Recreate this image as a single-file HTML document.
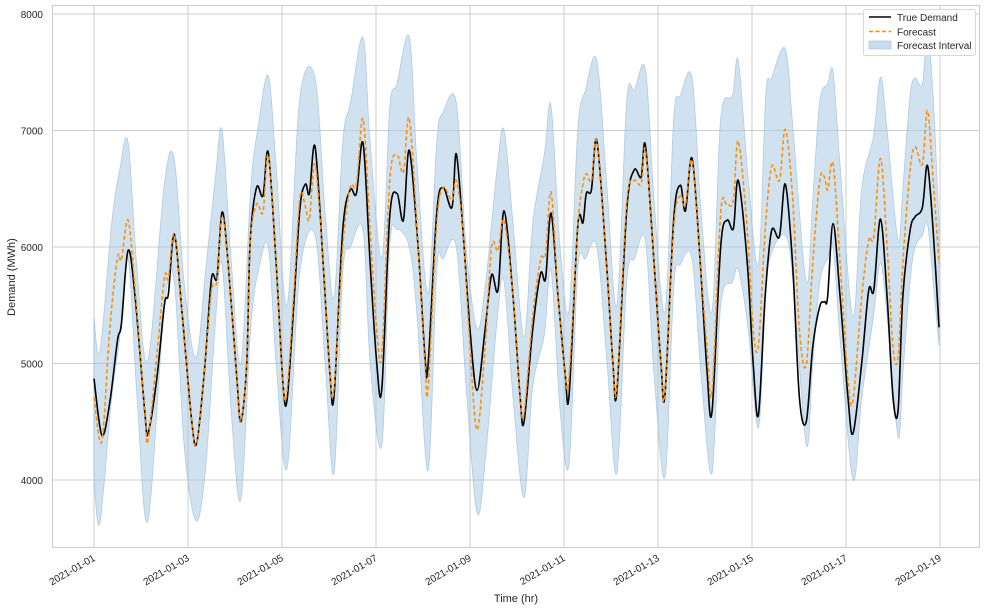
<!DOCTYPE html>
<html><head><meta charset="utf-8">
<style>
html,body{margin:0;padding:0;background:#fff;}
svg{display:block;font-family:"Liberation Sans",Arial,sans-serif;}
</style></head>
<body>
<svg id="chart" width="990" height="612" viewBox="0 0 990 612">
<rect x="0" y="0" width="990" height="612" fill="#fff"/>
<g id="grid"></g>
<g id="band"></g>
<g id="lines"></g>
<rect x="52.5" y="5.5" width="927" height="542" fill="none" stroke="#cccccc" stroke-width="1"/>
<g id="yticks"></g>
<g id="xticks"></g>
<text x="516" y="602" text-anchor="middle" font-size="11" fill="#262626">Time (hr)</text>
<text x="15" y="277" text-anchor="middle" font-size="11" fill="#262626" transform="rotate(-90 15 277)">Demand (MWh)</text>
<g>
<rect x="863.5" y="9.5" width="112" height="46" rx="2" fill="#fff" fill-opacity="0.85" stroke="#d8d8d8"/>
<line x1="869" y1="17" x2="891" y2="17" stroke="#000" stroke-width="1.6"/>
<text x="897" y="21" font-size="10" fill="#262626">True Demand</text>
<line x1="869" y1="31.5" x2="891" y2="31.5" stroke="#ff8c00" stroke-width="1.6" stroke-dasharray="4,2.5"/>
<text x="897" y="35.5" font-size="10" fill="#262626">Forecast</text>
<rect x="869" y="41" width="22" height="8" fill="#b4cfe5" fill-opacity="0.7" stroke="#9fc0dc" stroke-width="0.6"/>
<text x="897" y="49" font-size="10" fill="#262626">Forecast Interval</text>
</g>
</svg>
<script>
const hours=[0,4,8,12,14,17.4,21,26,27.6,32,36,38,41,45,50,52.6,56.7,60,62.8,65.4,68.5,73,75,78,79.7,83,86.3,89,93,96.5,98.6,102,105.2,108,110,112.9,117,120.5,122.6,127,130.8,134,137.4,141,144.4,147,151,154.7,158,161,165.5,169,170.6,175,178.3,182.8,185,188.4,192,195.6,199.7,203,206.3,209.4,214,217.6,219.6,224,228,230.6,233.4,237,240.6,242.6,247,249.7,251.4,254,256.8,261.7,265,267,272,275.8,279.4,281.6,286,289.5,291.6,296,299.4,302,305.4,309.6,313,315.6,320,323.3,326.5,329,333.6,336.6,339.3,342.7,346,350,353,356.7,360.2,363.7,367,370.6,373,374.6,377.4,381,385,387.6,392,395.6,398.2,401.6,405,408,410.6,413,416.7,419.3,423,425.6,428.5,431.5];
const trueDemand=[4870,4385,4660,5200,5340,5970,5570,4570,4400,4860,5510,5600,6110,5430,4490,4330,5000,5730,5740,6300,5860,4860,4500,5000,6030,6510,6440,6810,5860,4830,4690,5500,6340,6540,6460,6860,5860,4910,4730,6140,6490,6460,6890,5860,5000,4790,6260,6460,6230,6830,6000,5060,4990,6290,6510,6340,6800,6140,5290,4770,5290,5760,5630,6310,5570,4710,4500,5290,5770,5730,6290,5570,4910,4730,6170,6210,6460,6490,6910,5860,5000,4760,6310,6660,6600,6870,5860,5000,4740,6230,6530,6310,6760,5860,4940,4590,6000,6230,6160,6570,5860,5000,4560,5570,6140,6090,6540,5860,4710,4500,5140,5490,5530,5570,6200,5570,4710,4400,5000,5630,5630,6240,5570,4710,4600,5570,6140,6260,6340,6700,6140,5310];
const forecast=[4710,4330,5290,5910,5890,6230,5630,4570,4340,5060,5740,5730,6110,5430,4490,4330,5000,5630,5710,6260,5860,4860,4500,5000,6030,6370,6300,6790,5860,4830,4770,5600,6430,6340,6240,6710,5860,4910,4790,6000,6510,6540,7100,6140,5290,5090,6570,6790,6640,7100,6000,5000,4790,6200,6510,6400,6570,6140,5140,4430,5140,6000,5970,6230,5570,4710,4570,5400,5890,5940,6470,5570,4910,4890,6170,6540,6630,6570,6900,5860,5000,4800,6370,6570,6540,6830,5860,5000,4740,6170,6440,6360,6740,5860,5140,4760,6290,6360,6400,6910,6140,5290,5160,6140,6690,6570,7010,6430,5290,4990,5860,6570,6600,6490,6710,5860,4860,4690,5570,6060,6090,6760,6000,5140,5060,5860,6660,6860,6710,7170,6570,5860];
const bandHours=[0,3,9,13,17.4,22,27.5,36,41,46,52,57,62,65.4,70,75,80,84,89,93,98.6,105,112.9,118,122.6,127,131,137.4,141,147,151,154.7,161,165,170.6,175,178.3,185,190,195.6,200,206,209.4,214,219.6,224,230,233.4,238,242.6,247,251,256.8,262,267,272,276,281.6,286,291.6,296,299.4,305.4,310,315.6,320,326,329,334,339.3,343,346,353,357,363.7,367,370.6,374.6,377.4,381,387.6,392,398,401.6,405,410.6,413,416.7,419.3,423,425.6,428.5,431.5];
const bandUpper=[5400,5100,6200,6650,6900,5800,5030,6550,6750,5700,5050,5800,6600,7000,5900,5000,6500,7050,7470,6700,5500,7270,7450,6300,5570,6900,7240,7800,6900,5900,7200,7400,7800,6700,5600,6900,7160,7240,6000,5300,5700,6700,7000,6200,5230,6200,6800,7210,6000,5460,7000,7350,7600,6500,5500,7250,7350,7520,6400,5450,7100,7300,7450,6300,5450,7100,7300,7600,6600,5850,7300,7450,7700,7000,5700,6400,7250,7400,7500,6700,5400,6500,6950,7460,7000,6050,6500,7300,7450,7400,7860,7300,6200];
const bandLower=[4000,3630,4700,5200,5900,4700,3650,5500,5700,4300,3650,4100,5350,5850,4600,3830,5300,5800,6000,5000,4100,5770,6100,5000,4060,5770,6000,6140,5000,4300,6000,6150,6000,5400,4080,5800,5900,6000,4800,3720,4200,5400,5700,4700,3850,4800,5250,5800,4600,4140,5800,5900,6000,5000,4060,5700,5900,6050,4900,4030,5650,5850,5900,4900,4060,5500,5700,5800,5300,4450,5600,5950,6100,5700,4300,5000,5700,5900,6000,5200,4000,4700,5400,5860,5400,4370,4900,5700,6000,6100,6200,5700,5150];
const yTicks=[4000,5000,6000,7000,8000];
const xTickHours=[0,48,96,144,192,240,288,336,384,432];
const xTickLabels=["2021-01-01","2021-01-03","2021-01-05","2021-01-07","2021-01-09","2021-01-11","2021-01-13","2021-01-15","2021-01-17","2021-01-19"];

const NS="http://www.w3.org/2000/svg";
function xs(h){return 94+h*(846/432);}
function ys(v){return 480-(v-4000)*(466/4000);}
function mk(tag,attrs,parent){const e=document.createElementNS(NS,tag);for(const k in attrs)e.setAttribute(k,attrs[k]);parent.appendChild(e);return e;}
function smooth(pts,move){
  let d=move?("M"+pts[0][0].toFixed(2)+","+pts[0][1].toFixed(2)):("L"+pts[0][0].toFixed(2)+","+pts[0][1].toFixed(2));
  for(let i=0;i<pts.length-1;i++){
    const p0=pts[i-1]||pts[i],p1=pts[i],p2=pts[i+1],p3=pts[i+2]||p2;
    const c1x=p1[0]+(p2[0]-p0[0])/6,c1y=p1[1]+(p2[1]-p0[1])/6;
    const c2x=p2[0]-(p3[0]-p1[0])/6,c2y=p2[1]-(p3[1]-p1[1])/6;
    d+="C"+c1x.toFixed(2)+","+c1y.toFixed(2)+" "+c2x.toFixed(2)+","+c2y.toFixed(2)+" "+p2[0].toFixed(2)+","+p2[1].toFixed(2);
  }
  return d;
}
const grid=document.getElementById('grid');
const yt=document.getElementById('yticks');
yTicks.forEach(v=>{
  const gl=mk('line',{x1:53,x2:979,y1:ys(v),y2:ys(v),stroke:'#cccccc','stroke-width':1},grid);
  
  
  const t=mk('text',{x:43,y:ys(v)+4,'text-anchor':'end','font-size':10,fill:'#262626'},yt);
  t.textContent=v;
  
  
});
const xt=document.getElementById('xticks');
xTickHours.forEach((h,i)=>{
  const gl=mk('line',{x1:xs(h),x2:xs(h),y1:6,y2:547,stroke:'#cccccc','stroke-width':1},grid);
  
  
  const x=xs(h)+2,y=560;
  const t=mk('text',{x:x,y:y,'text-anchor':'end','font-size':10,fill:'#262626',transform:'rotate(-30 '+x+' '+y+')'},xt);
  t.textContent=xTickLabels[i];
  
  
});
// band
const up=bandHours.map((h,i)=>[xs(h),ys(bandUpper[i])]);
const lo=bandHours.map((h,i)=>[xs(h),ys(bandLower[i])]).reverse();
const bandPath=mk('path',{d:smooth(up,true)+smooth(lo,false)+"Z",fill:'#a9c9e2','fill-opacity':0.55,stroke:'#8fb6d6','stroke-opacity':0.6,'stroke-width':0.8},document.getElementById('band'));


const lines=document.getElementById('lines');
const tl=mk('path',{d:smooth(hours.map((h,i)=>[xs(h),ys(trueDemand[i])]),true),fill:'none',stroke:'#000','stroke-width':1.6,'stroke-linejoin':'round'},lines);


const fl=mk('path',{d:smooth(hours.map((h,i)=>[xs(h),ys(forecast[i])]),true),fill:'none',stroke:'#ff8c00','stroke-width':1.5,'stroke-dasharray':'4,2.5'},lines);


</script>
</body></html>
